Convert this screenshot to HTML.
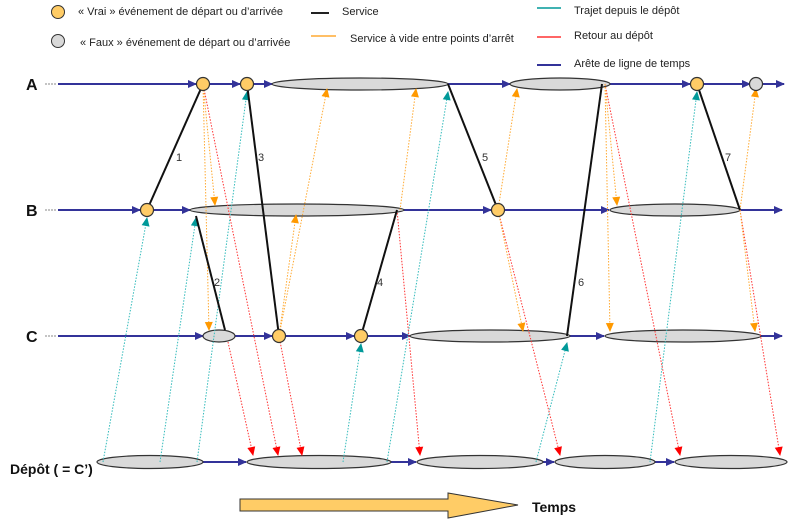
<!DOCTYPE html>
<html><head><meta charset="utf-8"><style>
html,body{margin:0;padding:0;background:#fff;}
svg{display:block;font-family:"Liberation Sans",Arial,sans-serif;}
</style></head><body>
<svg width="790" height="525" viewBox="0 0 790 525" xmlns="http://www.w3.org/2000/svg">
<defs>
<marker id="bl" markerWidth="10" markerHeight="10" refX="9" refY="5" orient="auto" markerUnits="userSpaceOnUse"><path d="M1,1 L10,5 L1,9 z" fill="#333399"/></marker>
<marker id="te" markerWidth="10" markerHeight="10" refX="9" refY="5" orient="auto" markerUnits="userSpaceOnUse"><path d="M1,1 L10,5 L1,9 z" fill="#009999"/></marker>
<marker id="re" markerWidth="10" markerHeight="10" refX="9" refY="5" orient="auto" markerUnits="userSpaceOnUse"><path d="M1,1 L10,5 L1,9 z" fill="#ff0000"/></marker>
<marker id="or" markerWidth="10" markerHeight="10" refX="9" refY="5" orient="auto" markerUnits="userSpaceOnUse"><path d="M1,1 L10,5 L1,9 z" fill="#ff9900"/></marker>
</defs>

<circle cx="58" cy="12" r="6.5" fill="#ffcc66" stroke="#333" stroke-width="1"/>
<text x="78" y="15" font-size="11" fill="#222">« Vrai » événement de départ ou d’arrivée</text>
<circle cx="58" cy="41" r="6.5" fill="#d9d9d9" stroke="#333" stroke-width="1"/>
<text x="80" y="46" font-size="11" fill="#222">« Faux » événement de départ ou d’arrivée</text>
<line x1="311" y1="13" x2="329" y2="13" stroke="#222" stroke-width="2"/>
<text x="342" y="15" font-size="11" fill="#222">Service</text>
<line x1="311" y1="36" x2="336" y2="36" stroke="#ffaa33" stroke-width="1.5"/>
<text x="350" y="42" font-size="11" fill="#222">Service à vide entre points d’arrêt</text>
<line x1="537" y1="8" x2="561" y2="8" stroke="#009999" stroke-width="1.5"/>
<text x="574" y="14" font-size="11" fill="#222">Trajet depuis le dépôt</text>
<line x1="537" y1="37" x2="561" y2="37" stroke="#ff3333" stroke-width="1.5"/>
<text x="574" y="39" font-size="11" fill="#222">Retour au dépôt</text>
<line x1="537" y1="65" x2="561" y2="65" stroke="#333399" stroke-width="2"/>
<text x="574" y="67" font-size="11" fill="#222">Arête de ligne de temps</text>

<g font-weight="bold" font-size="16" fill="#111">
<text x="26" y="90">A</text><text x="26" y="216">B</text><text x="26" y="342">C</text>
<text x="10" y="474" font-size="14">Dépôt ( = C’)</text>
</g>
<g stroke="#888" stroke-width="1" stroke-dasharray="2,1">
<line x1="45" y1="84" x2="57" y2="84"/><line x1="45" y1="210" x2="57" y2="210"/><line x1="45" y1="336" x2="57" y2="336"/>
</g>

<g stroke="#333399" stroke-width="2" fill="none" marker-end="url(#bl)">
<line x1="58" y1="84" x2="196" y2="84"/><line x1="210" y1="84" x2="240" y2="84"/><line x1="254" y1="84" x2="272" y2="84"/>
<line x1="448" y1="84" x2="510" y2="84"/><line x1="610" y1="84" x2="690" y2="84"/><line x1="704" y1="84" x2="750" y2="84"/><line x1="763" y1="84" x2="784" y2="84"/>
<line x1="58" y1="210" x2="140" y2="210"/><line x1="154" y1="210" x2="190" y2="210"/><line x1="404" y1="210" x2="491" y2="210"/>
<line x1="505" y1="210" x2="609" y2="210"/><line x1="740" y1="210" x2="782" y2="210"/>
<line x1="58" y1="336" x2="203" y2="336"/><line x1="235" y1="336" x2="272" y2="336"/><line x1="286" y1="336" x2="354" y2="336"/>
<line x1="368" y1="336" x2="410" y2="336"/><line x1="570" y1="336" x2="604" y2="336"/><line x1="761" y1="336" x2="782" y2="336"/>
<line x1="203" y1="462" x2="246" y2="462"/><line x1="391" y1="462" x2="416" y2="462"/><line x1="543" y1="462" x2="554" y2="462"/><line x1="655" y1="462" x2="674" y2="462"/>
</g>

<g fill="#d9d9d9" stroke="#333" stroke-width="1.2">
<ellipse cx="360" cy="84" rx="88" ry="6"/><ellipse cx="560" cy="84" rx="50" ry="6"/>
<ellipse cx="297" cy="210" rx="107" ry="6"/><ellipse cx="675" cy="210" rx="65" ry="6"/>
<ellipse cx="219" cy="336" rx="16" ry="6"/><ellipse cx="490" cy="336" rx="80" ry="6"/><ellipse cx="683" cy="336" rx="78" ry="6"/>
<ellipse cx="150" cy="462" rx="53" ry="6.5"/><ellipse cx="319" cy="462" rx="72" ry="6.5"/><ellipse cx="480" cy="462" rx="63" ry="6.5"/>
<ellipse cx="605" cy="462" rx="50" ry="6.5"/><ellipse cx="731" cy="462" rx="56" ry="6.5"/>
</g>

<g stroke="#33bbbb" stroke-width="1" stroke-dasharray="1.5,1.5" fill="none" marker-end="url(#te)">
<line x1="103" y1="462" x2="147" y2="218"/><line x1="160" y1="462" x2="196" y2="218"/><line x1="197" y1="462" x2="247" y2="92"/>
<line x1="343" y1="462" x2="361" y2="344"/><line x1="387" y1="462" x2="448" y2="92"/><line x1="536" y1="462" x2="567" y2="343"/>
<line x1="650" y1="462" x2="697" y2="92"/>
</g>
<g stroke="#ff3333" stroke-width="1" stroke-dasharray="1.5,1.5" fill="none" marker-end="url(#re)">
<line x1="203" y1="84" x2="278" y2="455"/><line x1="228" y1="342" x2="253" y2="455"/><line x1="279" y1="336" x2="302" y2="455"/>
<line x1="397" y1="210" x2="420" y2="455"/><line x1="498" y1="210" x2="560" y2="455"/><line x1="605" y1="84" x2="680" y2="455"/>
<line x1="740" y1="210" x2="780" y2="455"/>
</g>
<g stroke="#ffaa33" stroke-width="1" stroke-dasharray="1.5,1.5" fill="none" marker-end="url(#or)">
<line x1="203" y1="84" x2="209" y2="330"/><line x1="203" y1="84" x2="215" y2="205"/>
<line x1="279" y1="336" x2="296" y2="215"/><line x1="279" y1="336" x2="327" y2="89"/>
<line x1="400" y1="210" x2="416" y2="89"/><line x1="498" y1="210" x2="517" y2="89"/><line x1="498" y1="210" x2="523" y2="331"/>
<line x1="605" y1="84" x2="617" y2="205"/><line x1="605" y1="84" x2="610" y2="331"/>
<line x1="740" y1="210" x2="756" y2="89"/><line x1="740" y1="210" x2="755" y2="331"/>
</g>

<g stroke="#111" stroke-width="2">
<line x1="203" y1="84" x2="147" y2="210"/><line x1="247" y1="84" x2="279" y2="336"/>
<line x1="196" y1="216" x2="225" y2="330"/><line x1="397" y1="210" x2="361" y2="336"/>
<line x1="448" y1="84" x2="498" y2="210"/><line x1="602" y1="84" x2="567" y2="336"/>
<line x1="697" y1="84" x2="740" y2="210"/>
</g>
<g font-size="11" fill="#333">
<text x="176" y="161">1</text><text x="258" y="161">3</text><text x="214" y="286">2</text><text x="377" y="286">4</text>
<text x="482" y="161">5</text><text x="578" y="286">6</text><text x="725" y="161">7</text>
</g>

<g fill="#ffcc66" stroke="#333" stroke-width="1.2">
<circle cx="203" cy="84" r="6.5"/><circle cx="247" cy="84" r="6.5"/><circle cx="697" cy="84" r="6.5"/>
<circle cx="147" cy="210" r="6.5"/><circle cx="498" cy="210" r="6.5"/>
<circle cx="279" cy="336" r="6.5"/><circle cx="361" cy="336" r="6.5"/>
</g>
<circle cx="756" cy="84" r="6.5" fill="#d9d9d9" stroke="#333" stroke-width="1.2"/>

<path d="M240,499 L448,499 L448,493 L518,505 L448,518 L448,511 L240,511 Z" fill="#ffcc66" stroke="#333" stroke-width="1"/>
<text x="532" y="512" font-size="14" font-weight="bold" fill="#111">Temps</text>
</svg>
</body></html>
